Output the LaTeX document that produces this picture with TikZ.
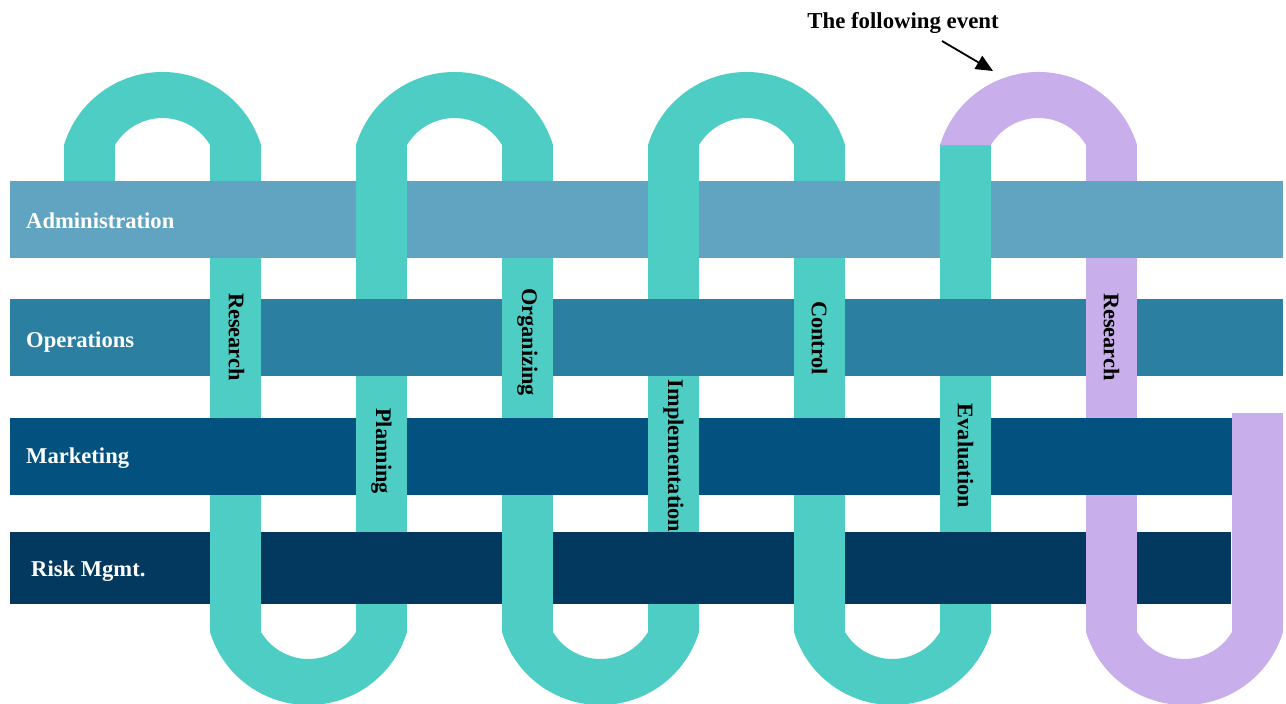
\documentclass[tikz,border=0pt]{standalone}
\usepackage{fontspec}
\setmainfont{Liberation Serif}
\usetikzlibrary{arrows.meta}
\definecolor{stripteal}{HTML}{4ECDC4}
\definecolor{striplav}{HTML}{C8AFEB}
\definecolor{cadmin}{HTML}{60A4C1}
\definecolor{coper}{HTML}{2B7FA0}
\definecolor{cmkt}{HTML}{02517F}
\definecolor{crisk}{HTML}{03395E}
\newcommand\mytoploop[2]{\fill[#2] ({#1-98.5},145) arc[start angle=196.9,end angle=343.1,radius=102.95] -- ({#1+47.5},145) arc[start angle=329.23,end angle=210.77,radius=55.28] -- cycle;}
\newcommand\mybotloop[2]{\fill[#2] ({#1-98.5},632) arc[start angle=163.1,end angle=16.9,radius=102.95] -- ({#1+47.5},632) arc[start angle=30.77,end angle=149.23,radius=55.28] -- cycle;}
\begin{document}
\begin{tikzpicture}[x=1pt,y=-1pt,
  bandlbl/.style={text=white,font=\fontsize{22.6}{27}\selectfont\bfseries,anchor=base west,inner sep=0pt},
  striplbl/.style={text=black,font=\fontsize{22.3}{27}\selectfont\bfseries,rotate=-90,inner sep=0pt},
  titlelbl/.style={text=black,font=\fontsize{22.8}{27}\selectfont\bfseries,inner sep=0pt}]
\useasboundingbox (0,0) rectangle (1286,704);
% strips: legs
\fill[stripteal] (64,144) rectangle (115,182);
\foreach \k in {1,...,6}{\fill[stripteal] ({64+146*\k},144) rectangle ({115+146*\k},633);}
\fill[striplav] (1086,144) rectangle (1137,633);
\fill[striplav] (1232,413) rectangle (1283,633);
% loops
\mytoploop{162.5}{stripteal}
\mytoploop{454.5}{stripteal}
\mytoploop{746.5}{stripteal}
\mytoploop{1038.5}{striplav}
\mybotloop{308.5}{stripteal}
\mybotloop{600.5}{stripteal}
\mybotloop{892.5}{stripteal}
\mybotloop{1184.5}{striplav}
% bands
\fill[cadmin] (10,181) rectangle (1283,258);
\fill[coper] (10,299) rectangle (1283,376);
\fill[cmkt] (10,418) rectangle (1232,495);
\fill[crisk] (10,532) rectangle (1231,604);
% strips over bands
\foreach \k in {1,3,5}{
  \fill[stripteal] ({64+146*\k},299) rectangle ({115+146*\k},376);
  \fill[stripteal] ({64+146*\k},532) rectangle ({115+146*\k},604);}
\foreach \k in {2,4,6}{
  \fill[stripteal] ({64+146*\k},181) rectangle ({115+146*\k},258);
  \fill[stripteal] ({64+146*\k},418) rectangle ({115+146*\k},495);}
\fill[striplav] (1086,299) rectangle (1137,376);
\fill[striplav] (1086,532) rectangle (1137,604);
% band labels
\node[bandlbl] (ladmin) at (26,228) {Administration};
\node[bandlbl] (loper) at (26,347) {Operations};
\node[bandlbl] (lmkt) at (26,463) {Marketing};
\node[bandlbl] (lrisk) at (31,576) {Risk Mgmt.};
% strip labels
\node[striplbl] (s1) at (236.5,337) {Research};
\node[striplbl] (s2) at (381.5,451) {Planning};
\node[striplbl] (s3) at (527.5,342) {Organizing};
\node[striplbl] (s4) at (673.5,456) {Implementation};
\node[striplbl] (s5) at (819.5,338) {Control};
\node[striplbl] (s6) at (965.5,456) {Evaluation};
\node[striplbl] (s7) at (1111.5,337) {Research};
% title and arrow
\node[titlelbl] (ttl) at (903,23) {The following event};
\coordinate (astart) at (942,41);
\coordinate (atip) at (993,71);
\draw[line width=1.8pt,-{Triangle[length=17pt,width=15pt]}] (astart) -- (atip);
\end{tikzpicture}
\end{document}
